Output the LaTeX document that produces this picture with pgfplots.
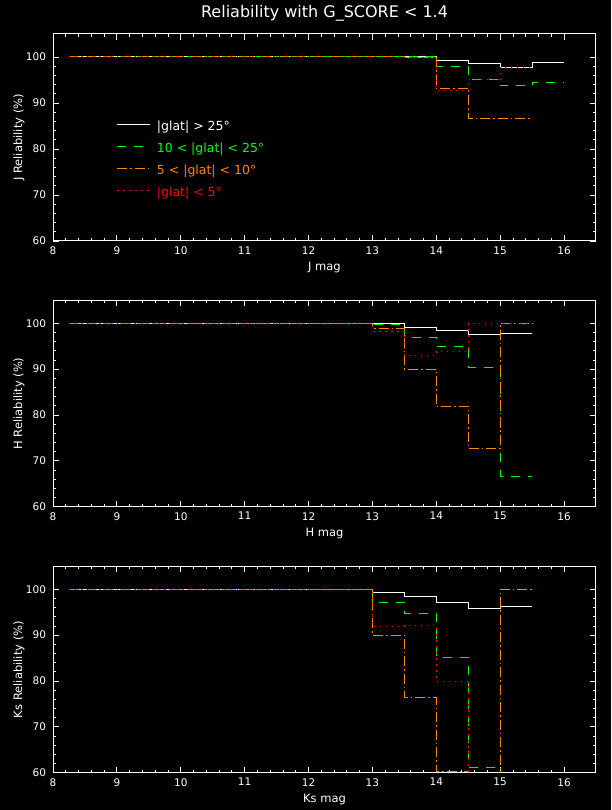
\documentclass[border=0pt]{standalone}
\usepackage{pgfplots}
\pgfplotsset{compat=1.18}
\usepackage{fontspec}
\setmainfont{DejaVu Sans}
\definecolor{mygreen}{RGB}{0,255,0}
\definecolor{myorange}{RGB}{255,136,0}
\definecolor{myred}{RGB}{255,0,0}
\pgfplotsset{
  myax/.style={
    scale only axis, width=543pt,
    xmin=8, xmax=16.5, ymin=60, ymax=105,
    xtick={8,9,...,16}, ytick={60,70,...,100},
    minor x tick num=4, minor y tick num=4,
    xtick pos=both, ytick pos=both,
    tick align=inside,
    major tick length=6pt, minor tick length=3pt,
    axis line style={white, line width=1pt},
    tick style={white, line width=0.9pt},
    /pgf/number format/assume math mode=true,
    tick label style={white, font=\fontsize{10.5}{12}\selectfont},
    xticklabel style={yshift=-2pt},
    yticklabel style={xshift=-3.5pt},
    label style={white, font=\fontsize{11.5}{13}\selectfont},
    xlabel style={at={(axis description cs:0.5,-0.13)}, anchor=center},
    ylabel style={at={(axis description cs:-0.0626,0.5)}, anchor=center},
    const plot, no markers,
    every axis plot/.append style={line width=1pt},
  },
  sw/.style={white, solid},
  sg/.style={mygreen, dash pattern=on 9pt off 8pt},
  so/.style={myorange, dash pattern=on 10pt off 3pt on 1.5pt off 3pt},
  sr/.style={myred, dash pattern=on 1.5pt off 4.5pt},
}
\begin{document}
\begin{tikzpicture}[x=1pt,y=1pt]
\fill[black] (0,0) rectangle (611,810);
\useasboundingbox (0,0) rectangle (611,810);
\node[white, font=\fontsize{16}{19}\selectfont, anchor=base] at (324.5,792) {Reliability with G\_SCORE < 1.4};

% ---------- J ----------
\begin{axis}[myax, at={(53pt,569pt)}, anchor=south west, height=207pt,
  xlabel={J mag}, ylabel={J Reliability (\%)},
  legend style={draw=none, fill=none, at={(rel axis cs:0.117,0.58)}, anchor=north west,
    inner sep=0pt, row sep=10pt, column sep=6pt,
    nodes={inner sep=0pt, text height=9pt, text depth=3pt},
    font=\fontsize{12.5}{14}\selectfont},
  legend cell align=left,
  legend image code/.code={\draw[#1, line width=1.2pt] (0pt,3pt) -- (33pt,3pt);}]
\addplot[sw] coordinates {(8.25,100) (14,99.26) (14.5,98.5) (15,97.8) (15.5,98.9) (16,98.9)};
\addlegendentry{\textcolor{white}{|glat| > 25°}}
\addplot[sg] coordinates {(8.25,100) (14,98.0) (14.5,95.2) (15,93.7) (15.5,94.5) (16,94.5)};
\addlegendentry{\textcolor{mygreen}{10 < |glat| < 25°}}
\addplot[so] coordinates {(8.25,100) (13.5,99.8) (14,93.2) (14.5,86.7) (15.5,86.7)};
\addlegendentry{\textcolor{myorange}{5 < |glat| < 10°}}
\addplot[sr] coordinates {(8.25,100) (13.5,99.8) (14,92.8) (14.5,95.2) (15,97.8) (15.5,97.8)};
\addlegendentry{\textcolor{myred}{|glat| < 5°}}
\end{axis}

% ---------- H ----------
\begin{axis}[myax, at={(53pt,303.3pt)}, anchor=south west, height=206.3pt,
  xlabel={H mag}, ylabel={H Reliability (\%)}]
\addplot[sw] coordinates {(8.25,100) (13.5,99.1) (14,98.5) (14.5,97.6) (15,97.8) (15.5,97.8)};
\addplot[sg] coordinates {(8.25,100) (13,99.8) (13.5,96.9) (14,95.0) (14.5,90.4) (15,66.6) (15.5,66.6)};
\addplot[so] coordinates {(8.25,100) (13,98.9) (13.5,90.0) (14,81.9) (14.5,72.7) (15,100) (15.5,100)};
\addplot[sr] coordinates {(8.25,100) (13,98.3) (13.5,93.0) (14,93.9) (14.5,100) (15.5,100)};
\end{axis}

% ---------- Ks ----------
\begin{axis}[myax, at={(53pt,37.3pt)}, anchor=south west, height=206.3pt,
  xlabel={Ks mag}, ylabel={Ks Reliability (\%)}]
\addplot[sw] coordinates {(8.25,100) (13,99.35) (13.5,98.5) (14,97.2) (14.5,95.9) (15,96.3) (15.5,96.3)};
\addplot[sg] coordinates {(8.25,100) (13,97.2) (13.5,94.8) (14,85.2) (14.5,61.2) (15,0) (15.5,0)};
\addplot[so] coordinates {(8.25,100) (13,90.0) (13.5,76.3) (14,60.2) (14.5,0) (15,100) (15.5,100)};
\addplot[sr] coordinates {(8.25,100) (13,91.9) (13.5,92.1) (14,79.9) (14.5,0) (15.5,0)};
\end{axis}
\end{tikzpicture}
\end{document}
